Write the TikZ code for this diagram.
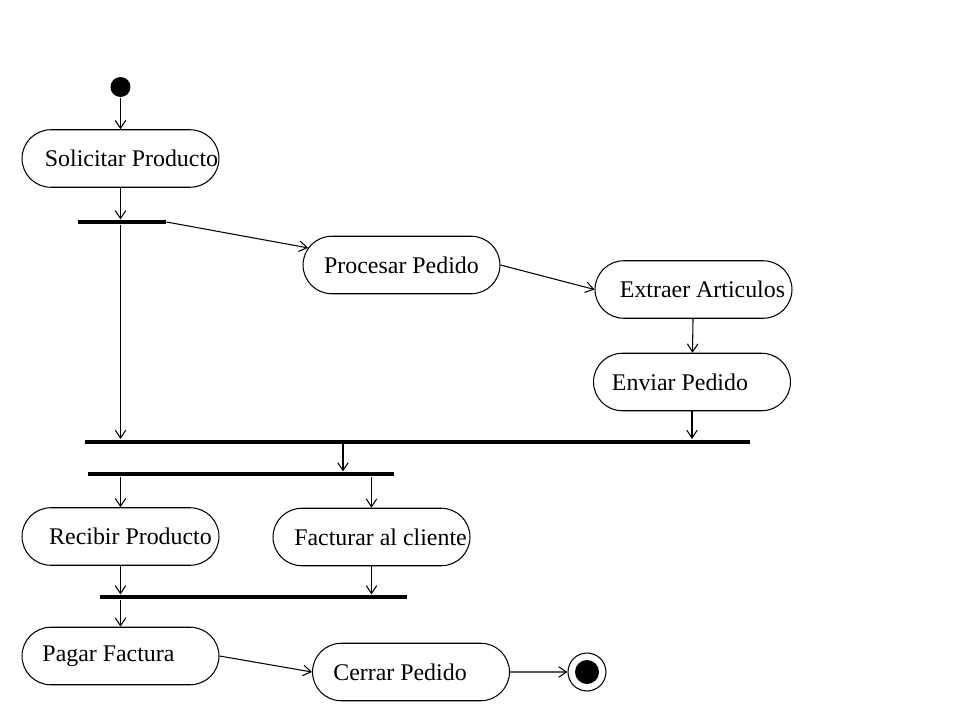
\documentclass[tikz,border=0pt]{standalone}
\usepackage{fontspec}
\setmainfont{Liberation Serif}
\usetikzlibrary{arrows.meta,shapes.misc}
\def\actwidth{3.94cm}
\def\actheight{1.15cm}
\newcommand{\acttext}[1]{\makebox[0pt]{#1}}

\begin{document}
\begin{tikzpicture}[x=0.02cm,y=-0.02cm,line width=0.6pt,myarrow/.style={-{Straight Barb[length=4.5pt,width=6pt]}}]
    \tikzstyle{activity}=[rounded rectangle,draw=black,minimum width=\actwidth,minimum height=\actheight,inner xsep=0pt,inner ysep=0pt,font=\fontsize{13.6}{16}\selectfont]
    \tikzstyle{bar}=[rectangle,fill=black,minimum height=0.08cm,inner sep=0pt]
    \tikzstyle{initial}=[circle,fill=black,minimum size=0.4cm,inner sep=0pt]
    \tikzstyle{final}=[circle,draw=black,minimum size=0.76cm,inner sep=0pt]

    \useasboundingbox (0,0) rectangle (960,720);

    % Draw the nodes
    \node[initial] (start) at (120.5,87) {};
    \node[activity] (solicitar) at (120.5,158.5) {\acttext{\hspace*{0.44cm}Solicitar Producto}};
    \node[bar,minimum width=1.76cm] (bar1) at (122,222) {};
    \node[activity] (procesar) at (401.5,265) {\acttext{Procesar Pedido}};
    \node[activity] (extraer) at (693.5,289.5) {\acttext{\hspace*{0.36cm}Extraer Articulos}};
    \node[activity] (enviar) at (692,382) {\acttext{Enviar Pedido\hspace*{0.48cm}}};
    \node[bar,minimum width=13.3cm] (bar2) at (417.5,441.5) {};
    \node[bar,minimum width=6.12cm] (bar3) at (241,474) {};
    \node[activity] (recibir) at (120.5,536.5) {\acttext{\hspace*{0.4cm}Recibir Producto}};
    \node[activity] (facturar) at (371.5,537) {\acttext{\hspace*{0.36cm}Facturar al cliente}};
    \node[bar,minimum width=6.14cm] (bar4) at (253.5,597) {};
    \node[activity] (pagar) at (120.5,656) {\acttext{Pagar Factura\hspace*{0.48cm}}};
    \node[activity] (cerrar) at (411,672) {\acttext{Cerrar Pedido\hspace*{0.44cm}}};
    \node[final] (stop) at (587,672) {};
    \node[initial,minimum size=0.48cm] (stopdot) at (stop) {};

    % Connect the nodes
    \draw[myarrow] (start) -- (solicitar);
    \draw[myarrow] (solicitar) -- (solicitar |- bar1.north);
    \draw[myarrow] (bar1.east) -- (procesar);
    \draw[myarrow] (procesar.east) -- (extraer.west);
    \draw[myarrow] (extraer) -- (enviar);
    \draw[myarrow] (enviar) -- (enviar |- bar2.north);
    \draw[myarrow] (solicitar |- bar1.south) -- (solicitar |- bar2.north);
    \draw[myarrow] (bar2.south -| 343,0) -- (bar3.north -| 343,0);
    \draw[myarrow] (recibir |- bar3.south) -- (recibir);
    \draw[myarrow] (facturar |- bar3.south) -- (facturar);
    \draw[myarrow] (recibir) -- (recibir |- bar4.north);
    \draw[myarrow] (facturar) -- (facturar |- bar4.north);
    \draw[myarrow] (pagar |- bar4.south) -- (pagar);
    \draw[myarrow] (pagar.east) -- (cerrar.west);
    \draw[myarrow] (cerrar) -- (stop);
\end{tikzpicture}
\end{document}
